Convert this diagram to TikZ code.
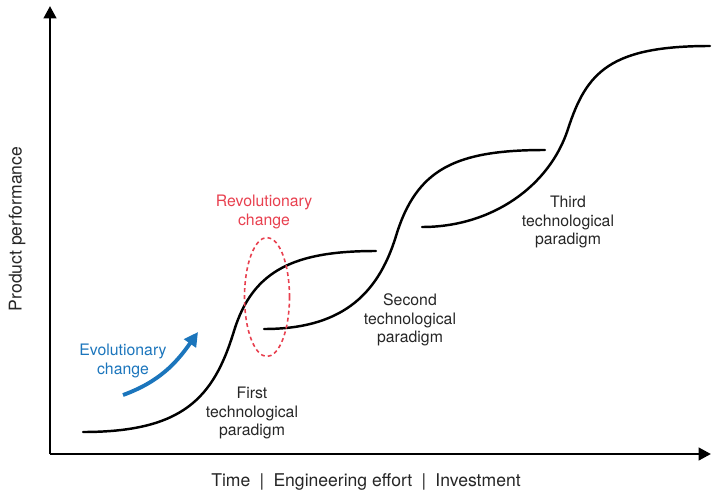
\documentclass[tikz,border=0pt]{standalone}
\usepackage{fontspec}
\setmainfont{TeX Gyre Heros}
\usepackage{xcolor}
\usetikzlibrary{arrows.meta,shapes.geometric}
\definecolor{revred}{HTML}{E8404F}
\definecolor{evoblue}{HTML}{1B75BC}
\tikzset{
    lbl/.style={align=center, text=black!85, font=\fontsize{9}{10.5}\selectfont},
    axlbl/.style={text=black!85, font=\fontsize{10}{12}\selectfont},
    scurve/.style={line width=1.4pt, line cap=round},
    axis/.style={line width=1.7pt, -{Triangle[length=7pt,width=7pt]}}
}
\begin{document}
\begin{tikzpicture}[x=0.02cm, y=0.02cm]
                \useasboundingbox (0,0) rectangle (712,494);
                
                % axes
                \coordinate (o) at (50,40);
                \coordinate (ytop) at (50,488);
                \coordinate (xend) at (711,40);
                \draw[axis] (o) -- (ytop);
                \draw[axis] (o) -- (xend);
                \node[axlbl, rotate=90] (ylabel) at (17,265) {Product performance};
                \node[axlbl] (xlabel) at (366,12) {Time\hspace{2.5pt} | \hspace{2.5pt}Engineering effort\hspace{2.5pt} | \hspace{2.5pt}Investment};
                
                % the three s-curves
                \draw[scurve] (83,62) .. controls (183,62) and (213.6,96) .. (234,163)
                    .. controls (253,225) and (296,243) .. (376,243);
                \draw[scurve] (264,165) .. controls (339,165) and (377.3,196.8) .. (396,258)
                    .. controls (416.4,324.9) and (455,344) .. (545,344);
                \draw[scurve] (422,267) .. controls (492,267) and (549.5,307.9) .. (568,365)
                    .. controls (586.5,422) and (610,448) .. (710,448);
                
                \foreach \n/\x/\y in {First/252/81, Second/410/174, Third/568/272} {
                    \node[lbl] (par\n) at (\x,\y) {\n\\technological\\paradigm};
                }
                
                % revolutionary change
                \node[draw=revred, dash pattern=on 2.2pt off 1.8pt, line width=0.9pt, ellipse, inner sep=0pt,
                      minimum width=0.9cm, minimum height=2.38cm] (jump) at (267,197) {};
                \node[lbl, text=revred] (revo) at (264,282) {Revolutionary\\change};
                
                % evolutionary change
                \node[lbl, text=evoblue] (evo) at (123,133) {Evolutionary\\change};
                \coordinate (evoA) at (123,99);
                \coordinate (evoB) at (198,162);
                \draw[evoblue, line width=2.2pt, -{Triangle[length=8pt,width=8pt]}] (evoA) to[out=20,in=235] (evoB);
            \end{tikzpicture}
\end{document}
